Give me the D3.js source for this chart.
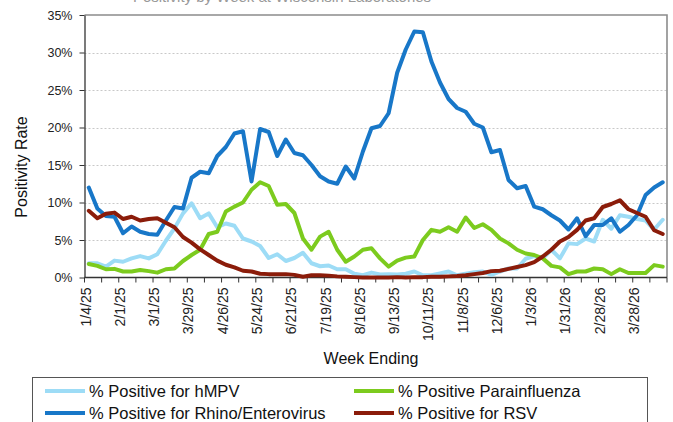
<!DOCTYPE html>
<html><head><meta charset="utf-8">
<script src="https://cdn.jsdelivr.net/npm/d3@7/dist/d3.min.js"></script>
<style>
body{margin:0;background:#fff;}
svg{display:block;font-family:"Liberation Sans",Arial,sans-serif;}
</style></head>
<body><svg id="c" width="673" height="422"></svg>
<script>
const weeks = ["1/4/25","1/11/25","1/18/25","1/25/25","2/1/25","2/8/25","2/15/25","2/22/25","3/1/25","3/8/25","3/15/25","3/22/25","3/29/25","4/5/25","4/12/25","4/19/25","4/26/25","5/3/25","5/10/25","5/17/25","5/24/25","5/31/25","6/7/25","6/14/25","6/21/25","6/28/25","7/5/25","7/12/25","7/19/25","7/26/25","8/2/25","8/9/25","8/16/25","8/23/25","8/30/25","9/6/25","9/13/25","9/20/25","9/27/25","10/4/25","10/11/25","10/18/25","10/25/25","11/1/25","11/8/25","11/15/25","11/22/25","11/29/25","12/6/25","12/13/25","12/20/25","12/27/25","1/3/26","1/10/26","1/17/26","1/24/26","1/31/26","2/7/26","2/14/26","2/21/26","2/28/26","3/7/26","3/14/26","3/21/26","3/28/26","4/4/26","4/11/26","4/18/26"];

const hmpv = [1.9,1.9,1.45,2.25,2.1,2.55,2.85,2.55,3.1,4.9,6.55,8.55,9.9,7.9,8.55,6.7,7.2,6.9,5.2,4.8,4.2,2.6,3.1,2.2,2.6,3.3,1.9,1.5,1.6,1.1,1.1,0.5,0.3,0.65,0.4,0.45,0.4,0.5,0.8,0.3,0.3,0.55,0.8,0.3,0.5,0.7,0.8,0.35,0.8,1.2,1.2,2.5,2.85,2.55,3.7,2.55,4.55,4.45,5.2,4.8,7.7,6.5,8.3,8.1,7.8,7.6,6.4,7.7];

const parainfluenza = [1.8,1.55,1.1,1.15,0.8,0.8,1.0,0.85,0.65,1.1,1.2,2.2,3.0,3.7,5.8,6.1,8.8,9.45,10.0,11.7,12.7,12.2,9.7,9.8,8.6,5.2,3.7,5.45,6.1,3.7,2.1,2.8,3.7,3.9,2.55,1.45,2.25,2.65,2.8,5.0,6.35,6.1,6.7,6.1,8.0,6.6,7.1,6.35,5.2,4.55,3.7,3.2,3.0,2.55,1.55,1.35,0.45,0.8,0.8,1.2,1.1,0.45,1.1,0.6,0.6,0.6,1.65,1.45];

const rhino = [12.0,9.2,8.2,8.1,5.9,6.8,6.1,5.8,5.7,7.6,9.4,9.2,13.3,14.1,13.9,16.2,17.4,19.2,19.5,12.8,19.8,19.4,16.2,18.4,16.6,16.3,15.0,13.5,12.8,12.5,14.8,13.2,16.8,19.9,20.2,21.9,27.3,30.4,32.8,32.7,28.8,26.0,23.8,22.6,22.1,20.5,20.0,16.7,17.0,13.0,11.9,12.2,9.45,9.1,8.3,7.6,6.4,7.9,5.5,7.0,7.0,7.9,6.1,7.0,8.3,11.0,12.0,12.7];

const rsv = [8.9,7.9,8.5,8.65,7.8,8.1,7.6,7.8,7.9,7.3,6.7,5.4,4.65,3.75,3.0,2.25,1.7,1.35,0.9,0.8,0.5,0.45,0.45,0.45,0.35,0.1,0.3,0.3,0.25,0.15,0.1,0.05,0.0,0.0,0.0,0.0,0.05,0.0,0.05,0.05,0.1,0.1,0.15,0.2,0.3,0.45,0.6,0.85,0.9,1.15,1.4,1.65,2.05,2.8,3.7,4.8,5.4,6.35,7.6,7.9,9.4,9.8,10.3,9.1,8.6,8.1,6.3,5.8];

const yTicks = [0,5,10,15,20,25,30,35];
const seriesNames = ["% Positive for hMPV","% Positive Parainfluenza","% Positive for Rhino/Enterovirus","% Positive for RSV"];
const seriesColors = ["#9ddcf6","#7ccb1e","#1877c8","#8b1c0a"];
const titleText = "Positivity by Week at Wisconsin Laboratories";

const svg = d3.select("#c");
const L = 84.5, R = 667, T = 15, B = 277.5;

const x = d3.scaleBand().domain(weeks).range([L, R]).padding(0);
const y = d3.scaleLinear().domain([0, 35]).range([B, T]);
const bw = x.bandwidth();

// title (cut off at top, as in the source)
svg.append("text").attr("x", 282).attr("y", 1.5).attr("text-anchor","middle")
  .attr("font-size", 15).attr("fill","#999").text(titleText);

// gridlines
svg.append("g").selectAll("line").data(yTicks.filter(d => d > 0 && d < 35)).join("line")
  .attr("x1", L).attr("x2", R).attr("y1", d => Math.round(y(d)) + 0.5).attr("y2", d => Math.round(y(d)) + 0.5)
  .attr("stroke", "#c8c8c8").attr("stroke-dasharray", "2,2").attr("stroke-width", 1);

// top & right border
svg.append("path").attr("d", `M${L},${T}H${R}V${B}`).attr("fill","none").attr("stroke","#8c8c8c").attr("stroke-width",1.6);

// y axis
const yAxis = d3.axisLeft(y).tickValues(yTicks).tickFormat(d => d + "%").tickSize(5).tickSizeOuter(0);
const gy = svg.append("g").attr("transform", `translate(${L},0)`).call(yAxis);
gy.select(".domain").attr("stroke","#333").attr("stroke-width",1.3);
gy.selectAll(".tick line").attr("stroke","#333");
gy.selectAll("text").attr("font-size", 12.5).attr("fill","#222").attr("dx", -4)
  .attr("font-family","Liberation Sans, Arial, sans-serif");

// x axis: ticks every 2 weeks at category boundaries, labels every 4 weeks
const tickPos = d3.range(0, weeks.length + 1, 2).map(i => L + i * bw);
const gx = svg.append("g");
gx.append("line").attr("x1", L).attr("x2", R).attr("y1", B).attr("y2", B).attr("stroke","#333").attr("stroke-width",1.3);
gx.selectAll("line.tk").data(tickPos).join("line").attr("class","tk")
  .attr("x1", d => d).attr("x2", d => d).attr("y1", B).attr("y2", B + 5).attr("stroke","#333");
const labelWeeks = weeks.filter((w, i) => i % 4 === 0);
gx.selectAll("text").data(labelWeeks).join("text")
  .attr("transform", d => `translate(${x(d) + bw/2 - 3},${B + 10}) rotate(-90)`)
  .attr("text-anchor","end").attr("dy","0.35em").attr("font-size", 14).attr("fill","#222").text(d => d);

// axis titles
svg.append("text").attr("transform","translate(27,167) rotate(-90)").attr("text-anchor","middle")
  .attr("font-size", 16).attr("fill","#111").text("Positivity Rate");
svg.append("text").attr("x", 371).attr("y", 364).attr("text-anchor","middle")
  .attr("font-size", 16).attr("fill","#111").text("Week Ending");

// lines
const allSeries = [hmpv, parainfluenza, rhino, rsv];
const line = d3.line().x((d, i) => x(weeks[i]) + bw / 2).y(d => y(d)).curve(d3.curveLinear);
[0, 1, 2, 3].forEach(k => {
  svg.append("path").datum(allSeries[k]).attr("d", line).attr("fill","none")
    .attr("stroke", seriesColors[k]).attr("stroke-width", 4).attr("stroke-linejoin","round").attr("stroke-linecap","round");
});

// legend
svg.append("rect").attr("x", 32.5).attr("y", 377.5).attr("width", 615).attr("height", 60)
  .attr("fill","#fff").attr("stroke","#555").attr("stroke-width",1);
const legPos = [[45, 391],[354, 391],[45, 413],[354, 413]];
seriesNames.forEach((n, k) => {
  const [lx, ly] = legPos[k];
  svg.append("line").attr("x1", lx).attr("x2", lx + 40).attr("y1", ly).attr("y2", ly)
    .attr("stroke", seriesColors[k]).attr("stroke-width", 4);
  svg.append("text").attr("x", lx + 44).attr("y", ly).attr("dy","0.35em").attr("font-size", 16.5).attr("fill","#111").text(n);
});
</script></body></html>
